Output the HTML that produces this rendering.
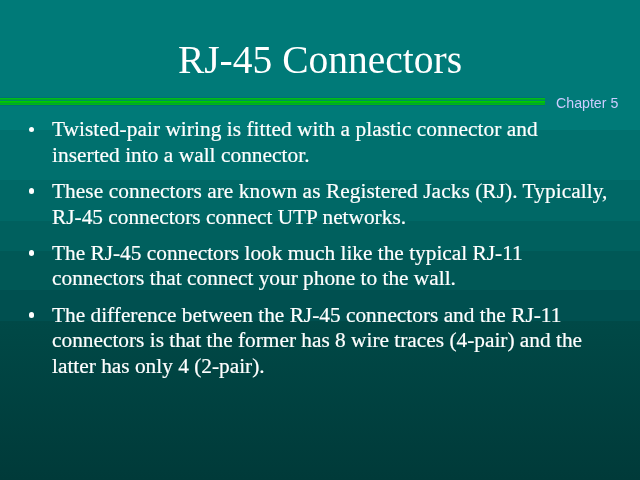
<!DOCTYPE html>
<html><head><meta charset="utf-8">
<style>
html,body{margin:0;padding:0;}
body{width:640px;height:480px;overflow:hidden;position:relative;
background:linear-gradient(to bottom,
 rgb(0,122,120) 0px, rgb(0,122,120) 130px,
 rgb(0,112,110) 130px, rgb(0,112,110) 180px,
 rgb(0,104,102) 180px, rgb(0,104,102) 221px,
 rgb(0,96,94) 221px, rgb(0,96,94) 251.5px,
 rgb(0,88,86) 251.5px, rgb(0,88,86) 290px,
 rgb(0,80,80) 290px, rgb(0,80,80) 321px,
 rgb(0,73,71) 321px, rgb(0,58,57) 480px);}
.g{position:absolute;left:0;width:545px;height:1px;}
.t{position:absolute;will-change:transform;white-space:nowrap;color:#fff;font-family:"Liberation Serif",serif;line-height:1;}
.title{font-size:39.5px;left:0;width:640px;text-align:center;}
.b{font-size:21.33px;left:52px;-webkit-text-stroke:0.2px #fff;}
.dot{position:absolute;width:5.5px;height:5.5px;border-radius:50%;background:#fff;left:28.6px;}
.ch{position:absolute;left:556px;top:96.3px;font-family:"Liberation Sans",sans-serif;font-size:14.2px;color:#ccf;line-height:1;white-space:nowrap;will-change:transform;}
</style></head>
<body>
<div class="g" style="top:97px;background:rgb(0,112,120)"></div>
<div class="g" style="top:98px;background:rgb(0,188,24)"></div>
<div class="g" style="top:99px;background:rgb(0,168,42)"></div>
<div class="g" style="top:100px;background:rgb(0,140,92)"></div>
<div class="g" style="top:101px;background:rgb(0,204,0)"></div>
<div class="g" style="top:102px;background:rgb(0,190,12)"></div>
<div class="g" style="top:103px;background:rgb(0,165,50)"></div>
<div class="g" style="top:104px;background:rgb(0,182,20)"></div>
<div class="g" style="top:105px;background:rgb(0,112,120)"></div>

<div class="t title" style="top:40.5px">RJ-45 Connectors</div>
<div class="ch">Chapter 5</div>

<div class="dot" style="top:126.8px"></div>
<div class="t b" style="top:119.2px;letter-spacing:0.045px">Twisted-pair wiring is fitted with a plastic connector and</div>
<div class="t b" style="top:144.7px;letter-spacing:0.035px">inserted into a wall connector.</div>
<div class="dot" style="top:188.3px"></div>
<div class="t b" style="top:180.9px;letter-spacing:0.07px">These connectors are known as Registered Jacks (RJ). Typically,</div>
<div class="t b" style="top:206.5px">RJ-45 connectors connect UTP networks.</div>
<div class="dot" style="top:250.3px"></div>
<div class="t b" style="top:243.1px">The RJ-45 connectors look much like the typical RJ-11</div>
<div class="t b" style="top:267.8px">connectors that connect your phone to the wall.</div>
<div class="dot" style="top:312.3px"></div>
<div class="t b" style="top:305.2px">The difference between the RJ-45 connectors and the RJ-11</div>
<div class="t b" style="top:330.4px">connectors is that the former has 8 wire traces (4-pair) and the</div>
<div class="t b" style="top:356px">latter has only 4 (2-pair).</div>
</body></html>
